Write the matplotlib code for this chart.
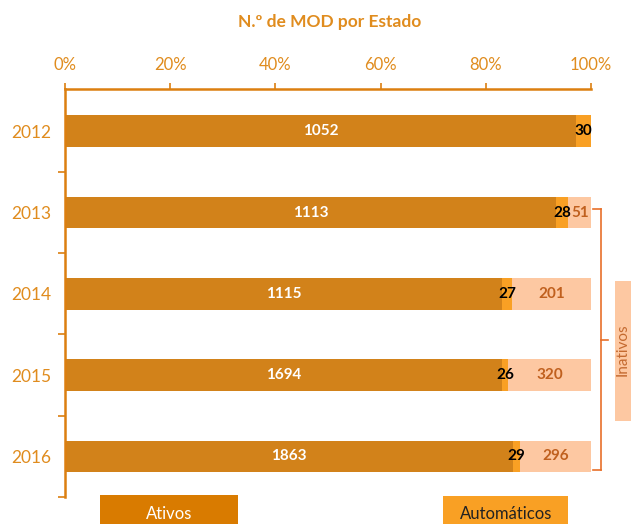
import matplotlib
matplotlib.use("Agg")
import matplotlib.pyplot as plt
from matplotlib.patches import Rectangle
from matplotlib.lines import Line2D

years = ["2012", "2013", "2014", "2015", "2016"]
ativos = [1052, 1113, 1115, 1694, 1863]
automaticos = [30, 28, 27, 26, 29]
inativos = [0, 51, 201, 320, 296]
xticks = [0, 0.2, 0.4, 0.6, 0.8, 1.0]
xticklabels = ["0%", "20%", "40%", "60%", "80%", "100%"]

plt.rcParams['font.family'] = ['Lato', 'DejaVu Sans']

C_ATIVOS = "#D2821A"
C_AUTO = "#F9A024"
C_INAT = "#FDC8A2"
C_AXIS = "#DC7F10"
C_TEXT = "#E08C1E"
C_INAT_TXT = "#C0601E"

W, H = 631, 524
fig = plt.figure(figsize=(W / 100, H / 100), dpi=100)
ax = fig.add_axes([65 / W, 1 - 497 / H, (591 - 65) / W, (497 - 89) / H])

tot = [a + b + c for a, b, c in zip(ativos, automaticos, inativos)]
pa = [a / t for a, t in zip(ativos, tot)]
pb = [b / t for b, t in zip(automaticos, tot)]
pc = [c / t for c, t in zip(inativos, tot)]
ys = list(range(len(years)))
h = 0.39
ax.barh(ys, pa, height=h, color=C_ATIVOS, edgecolor="none")
ax.barh(ys, pb, left=pa, height=h, color=C_AUTO, edgecolor="none")
ax.barh(ys, pc, left=[a + b for a, b in zip(pa, pb)], height=h, color=C_INAT, edgecolor="none")

for i in ys:
    ax.text(pa[i] / 2, i, str(ativos[i]), ha="center", va="center",
            color="white", fontsize=11, fontweight="bold")
    ax.text(pa[i] + pb[i] / 2, i, str(automaticos[i]), ha="center", va="center",
            color="black", fontsize=11, fontweight="bold")
    if inativos[i] > 0:
        ax.text(pa[i] + pb[i] + pc[i] / 2, i, str(inativos[i]), ha="center", va="center",
                color=C_INAT_TXT, fontsize=11, fontweight="bold")

ax.set_xlim(0, 1)
ax.set_ylim(4.5, -0.52)
ax.xaxis.tick_top()
ax.set_xticks(xticks)
ax.set_xticklabels(xticklabels)
ax.set_yticks(ys)
ax.set_yticklabels(years)
ax.set_yticks([0.5, 1.5, 2.5, 3.5, 4.5], minor=True)
ax.tick_params(axis="x", which="major", length=4.5, width=1.2, color=C_AXIS,
               labelcolor=C_TEXT, labelsize=12, pad=7, direction="out")
ax.tick_params(axis="y", which="major", length=0, labelcolor=C_TEXT, labelsize=12.5, pad=10)
ax.tick_params(axis="y", which="minor", length=5, width=1.2, color=C_AXIS, direction="out")
for s in ["right", "bottom"]:
    ax.spines[s].set_visible(False)
for s in ["top", "left"]:
    ax.spines[s].set_color(C_AXIS)
    ax.spines[s].set_linewidth(1.8)

fig.text(330 / W, 1 - 22 / H, "N.º de MOD por Estado", ha="center", va="center",
         color=C_TEXT, fontsize=12.5, fontweight="bold")

# bracket for Inativos
def px(x, y):
    return x / W, 1 - y / H
bc = "#E8702A"
for seg in [((593, 209), (601, 209)), ((601, 209), (601, 470)), ((593, 470), (601, 470)),
            ((601, 340), (608, 340))]:
    (x0, y0), (x1, y1) = seg
    a, b = px(x0, y0)
    c, d = px(x1, y1)
    fig.add_artist(Line2D([a, c], [b, d], color=bc, lw=1.2, transform=fig.transFigure))

fig.add_artist(Rectangle(px(615, 421), 40 / W, 140 / H, transform=fig.transFigure,
                         facecolor=C_INAT, edgecolor="none"))
fig.text(623 / W, 1 - 350 / H, "Inativos", rotation=90, ha="center", va="center",
         color="#C46A30", fontsize=11)

# legend boxes
fig.add_artist(Rectangle(px(100, 530), 138 / W, 35 / H, transform=fig.transFigure,
                         facecolor="#D97B00", edgecolor="none"))
fig.text(169 / W, 1 - 514 / H, "Ativos", ha="center", va="center", color="white", fontsize=12)
fig.add_artist(Rectangle(px(443, 530), 125 / W, 34 / H, transform=fig.transFigure,
                         facecolor=C_AUTO, edgecolor="none"))
fig.text(506 / W, 1 - 514 / H, "Automáticos", ha="center", va="center", color="#222222", fontsize=12)

fig.savefig("out.png", dpi=100)
